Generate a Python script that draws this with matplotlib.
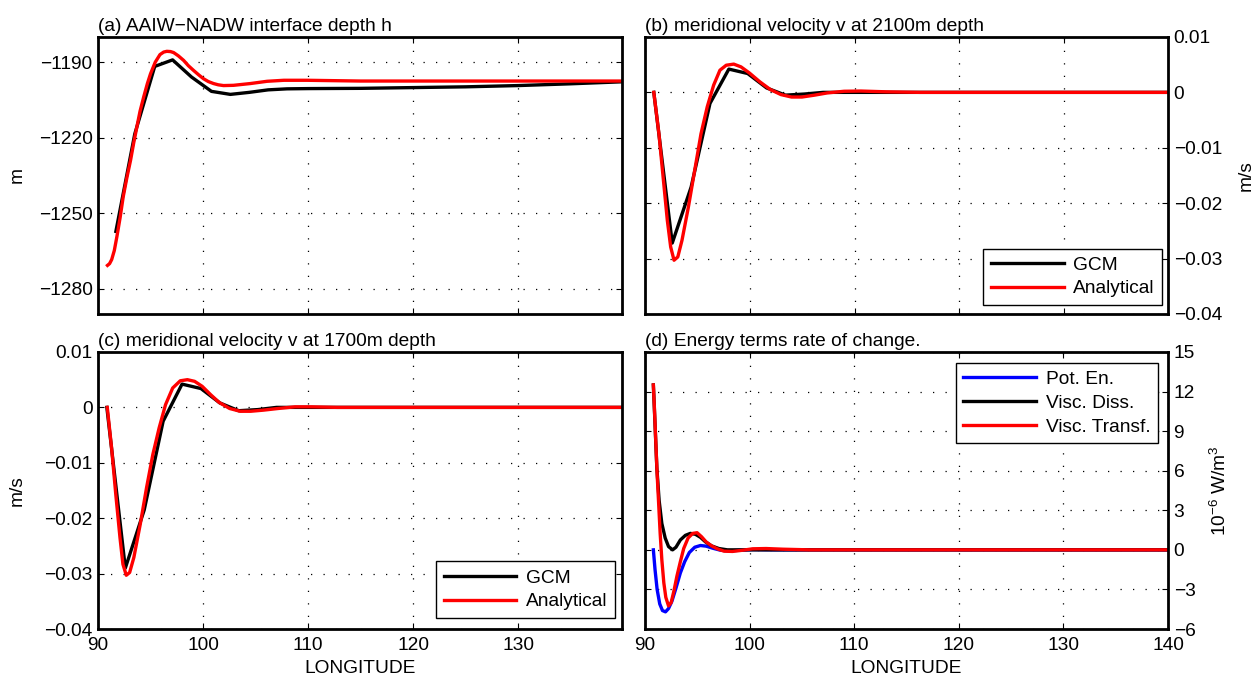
import matplotlib
matplotlib.use("Agg")
import matplotlib.pyplot as plt
import matplotlib.ticker as ticker

FONT = "Liberation Sans"
FS = 13.8

# (a) interface depth h
lon_a_gcm = [91.7, 93.5, 95.4, 97.1, 98.9, 100.8, 102.6, 104.4, 106.2, 108.0, 110.0, 115.0, 120.0, 125.0, 130.0, 135.0, 139.9]
h_gcm = [-1257.2, -1218.5, -1191.7, -1189.1, -1195.9, -1201.6, -1202.8, -1202.0, -1201.0, -1200.6, -1200.5, -1200.4, -1200.1, -1199.8, -1199.3, -1198.6, -1197.8]
lon_a_ana = [90.9, 91.1, 91.3, 91.55, 91.8, 92.1, 92.4, 92.75, 93.1, 93.4, 93.7, 94.0, 94.35, 94.7, 95.0, 95.45, 95.9,
             96.25, 96.55, 96.9, 97.2, 97.65, 98.15, 98.6, 99.1, 99.6, 100.05, 100.5, 101.0, 101.45, 101.95, 102.9,
             104.5, 106.1, 107.7, 109.9, 115.0, 125.0, 139.9]
h_ana = [-1270.7, -1270.0, -1268.4, -1264.8, -1259.2, -1251.8, -1243.4, -1235.8, -1228.9, -1222.0, -1215.7, -1209.5,
         -1203.8, -1198.5, -1194.6, -1190.0, -1187.0, -1186.0, -1185.7, -1185.8, -1186.2, -1187.5, -1189.3, -1191.4,
         -1193.3, -1195.1, -1196.6, -1197.7, -1198.5, -1199.0, -1199.3, -1199.2, -1198.5, -1197.6, -1197.2, -1197.2,
         -1197.5, -1197.5, -1197.5]

# (b) v at 2100 m
lon_v_gcm = [90.84, 92.6, 94.4, 96.2, 98.0, 99.8, 101.6, 103.4, 105.2, 107.0, 110.0, 120.0, 130.0, 139.9]
vb_gcm = [0.0, -0.0272, -0.0171, -0.0020, 0.0042, 0.0034, 0.0008, -0.0005, -0.0003, 0.0, 0.0, 0.0, 0.0, 0.0]
lon_b_ana = [90.84, 91.33, 91.73, 92.13, 92.45, 92.77, 93.13, 93.53, 94.14, 94.74, 95.34, 95.94, 96.55, 97.15,
             97.75, 98.47, 99.16, 99.96, 100.96, 101.97, 102.97, 103.98, 104.98, 106.18, 107.39, 109.0, 110.6,
             113.0, 116.2, 139.9]
vb_ana = [0.0, -0.0075, -0.0153, -0.0231, -0.0279, -0.0303, -0.0297, -0.0267, -0.0207, -0.0141, -0.0075, -0.0026,
          0.0013, 0.0040, 0.0049, 0.0051, 0.0046, 0.0035, 0.0019, 0.0005, -0.0004, -0.00084, -0.00084, -0.0005,
          -0.0001, 0.0002, 0.00024, 0.0001, 0.0, 0.0]

# (c) v at 1700 m
vc_gcm = [0.0, -0.0290, -0.0185, -0.0025, 0.0042, 0.0034, 0.0008, -0.0006, -0.0004, 0.0, 0.0, 0.0, 0.0, 0.0]
lon_c_ana = [90.88, 91.29, 91.69, 92.09, 92.37, 92.69, 93.01, 93.41, 94.02, 94.62, 95.22, 95.82, 96.43, 97.11,
             97.83, 98.51, 99.2, 99.92, 100.72, 101.53, 102.53, 103.53, 104.54, 105.74, 107.15, 108.76, 110.36,
             112.77, 139.9]
vc_ana = [0.0, -0.0073, -0.0157, -0.0235, -0.0283, -0.0303, -0.0298, -0.0271, -0.0211, -0.0145, -0.0085, -0.0037,
          0.0005, 0.0035, 0.0048, 0.0050, 0.0047, 0.0038, 0.0023, 0.0009, -0.0002, -0.0007, -0.0007, -0.0005,
          -0.0002, 0.0001, 0.0001, 0.0, 0.0]

# (d) energy terms, 1e-6 W/m^3
lon_pe = [90.8, 90.96, 91.16, 91.41, 91.67, 91.96, 92.25, 92.57, 92.96, 93.38, 93.79, 94.24, 94.76, 95.3, 95.85,
          96.5, 97.23, 98.04, 99.0, 100.29, 102.5, 140.0]
pot_en = [0.0, -1.5, -3.0, -4.1, -4.6, -4.7, -4.45, -3.9, -2.9, -1.75, -0.9, -0.2, 0.2, 0.33, 0.28,
          0.12, -0.03, -0.08, -0.03, 0.02, 0.0, 0.0]
lon_vd = [90.8, 90.96, 91.13, 91.35, 91.61, 91.93, 92.25, 92.64, 92.96, 93.38, 93.86, 94.34, 94.82, 95.3, 95.79,
          96.37, 97.07, 97.88, 100.0, 140.0]
visc_diss = [12.5, 9.5, 6.25, 3.75, 2.0, 0.9, 0.25, 0.0, 0.2, 0.75, 1.1, 1.25, 1.18, 0.95, 0.6,
             0.3, 0.1, 0.0, 0.0, 0.0]
lon_vt = [90.8, 90.9, 91.03, 91.16, 91.29, 91.45, 91.61, 91.8, 91.99, 92.25, 92.5, 92.77, 93.05, 93.38, 93.7,
          94.12, 94.57, 94.98, 95.4, 95.85, 96.37, 96.91, 97.56, 98.36, 99.32, 100.29, 101.58, 103.18, 105.76, 140.0]
visc_transf = [12.5, 10.75, 8.25, 5.75, 3.75, 1.25, -0.75, -2.5, -3.6, -4.25, -4.0, -3.1, -2.0, -0.9, 0.1,
               0.9, 1.25, 1.3, 1.0, 0.6, 0.3, 0.08, -0.1, -0.12, -0.03, 0.08, 0.1, 0.05, 0.0, 0.0]

plt.rcParams["font.family"] = [FONT, "DejaVu Sans"]
plt.rcParams["font.size"] = FS
plt.rcParams["mathtext.fontset"] = "custom"
plt.rcParams["mathtext.rm"] = FONT
plt.rcParams["mathtext.it"] = FONT + ":italic"
plt.rcParams["axes.unicode_minus"] = True

LW = 2.4
fig = plt.figure(figsize=(12.6, 6.82), dpi=100)
ax_a = fig.add_axes([0.0778, 0.5396, 0.4159, 0.4062])
ax_b = fig.add_axes([0.5119, 0.5396, 0.4151, 0.4062])
ax_c = fig.add_axes([0.0778, 0.0777, 0.4159, 0.4062])
ax_d = fig.add_axes([0.5119, 0.0777, 0.4151, 0.4062])


def fmt(v, pos):
    if abs(v) < 1e-12:
        return "0"
    return ("%g" % v).replace("-", "\u2212")


def style(ax, xmax, ylim, ystep, right, xlabels):
    ax.xaxis.set_major_locator(ticker.MultipleLocator(10))
    ax.yaxis.set_major_locator(ticker.MultipleLocator(ystep))
    ax.yaxis.set_major_formatter(ticker.FuncFormatter(fmt))
    ax.set_xlim(90, xmax)
    ax.set_ylim(*ylim)
    ax.grid(True, color="k", linestyle=(0, (1, 9)), linewidth=0.9)
    ax.tick_params(which="both", direction="in", top=True, bottom=True, left=True, right=True,
                   length=4, width=0.8, labelsize=FS)
    ax.tick_params(axis="y", labelleft=not right, labelright=right, pad=4)
    ax.tick_params(axis="x", labelbottom=xlabels, pad=6)
    for s in ax.spines.values():
        s.set_linewidth(2.0)
    if xlabels:
        ax.set_xlabel("LONGITUDE", fontsize=FS)
        ax.xaxis.set_label_coords(0.5, -0.112)


style(ax_a, 139.9, (-1290, -1180), 30, False, False)
ax_a.set_yticks([-1280, -1250, -1220, -1190])
ax_a.set_ylim(-1290, -1180)
ax_a.plot(lon_a_gcm, h_gcm, color="k", lw=LW)
ax_a.plot(lon_a_ana, h_ana, color="#ff0000", lw=LW)
ax_a.set_title("(a) AAIW\u2212NADW interface depth h", loc="left", fontsize=FS, pad=4)
ax_a.set_ylabel("m", fontsize=FS)
ax_a.yaxis.set_label_coords(-0.138, 0.5)

style(ax_b, 139.9, (-0.04, 0.01), 0.01, True, False)
ax_b.plot(lon_v_gcm, vb_gcm, color="k", lw=LW, label="GCM")
ax_b.plot(lon_b_ana, vb_ana, color="#ff0000", lw=LW, label="Analytical")
ax_b.set_title("(b) meridional velocity v at 2100m depth", loc="left", fontsize=FS, pad=4)
ax_b.yaxis.set_label_position("right")
ax_b.set_ylabel("m/s", fontsize=FS)
ax_b.yaxis.set_label_coords(1.134, 0.5)

style(ax_c, 139.9, (-0.04, 0.01), 0.01, False, True)
ax_c.plot(lon_v_gcm, vc_gcm, color="k", lw=LW, label="GCM")
ax_c.plot(lon_c_ana, vc_ana, color="#ff0000", lw=LW, label="Analytical")
ax_c.set_title("(c) meridional velocity v at 1700m depth", loc="left", fontsize=FS, pad=4)
ax_c.set_ylabel("m/s", fontsize=FS)
ax_c.yaxis.set_label_coords(-0.138, 0.5)

style(ax_d, 140, (-6, 15), 3, True, True)
ax_d.plot(lon_pe, pot_en, color="#0000ff", lw=LW, label="Pot. En.")
ax_d.plot(lon_vd, visc_diss, color="k", lw=LW, label="Visc. Diss.")
ax_d.plot(lon_vt, visc_transf, color="#ff0000", lw=LW, label="Visc. Transf.")
ax_d.set_title("(d) Energy terms rate of change.", loc="left", fontsize=FS, pad=4)
ax_d.yaxis.set_label_position("right")
ax_d.set_ylabel(r"10$^{-6}$ W/m$^{3}$", fontsize=FS)
ax_d.yaxis.set_label_coords(1.08, 0.5)

leg_kw = dict(fancybox=False, edgecolor="k", framealpha=1, fontsize=FS, handlelength=3.8,
              labelspacing=0.33, borderpad=0.4, handletextpad=0.5, borderaxespad=0)
lb = ax_b.legend(loc="lower right", bbox_to_anchor=(0.989, 0.032), **leg_kw)
lc = ax_c.legend(loc="lower right", bbox_to_anchor=(0.987, 0.04), **leg_kw)
ld = ax_d.legend(loc="upper right", bbox_to_anchor=(0.981, 0.96), **leg_kw)
for lg in (lb, lc, ld):
    lg.get_frame().set_linewidth(1.0)

fig.savefig("out.png", dpi=100)
